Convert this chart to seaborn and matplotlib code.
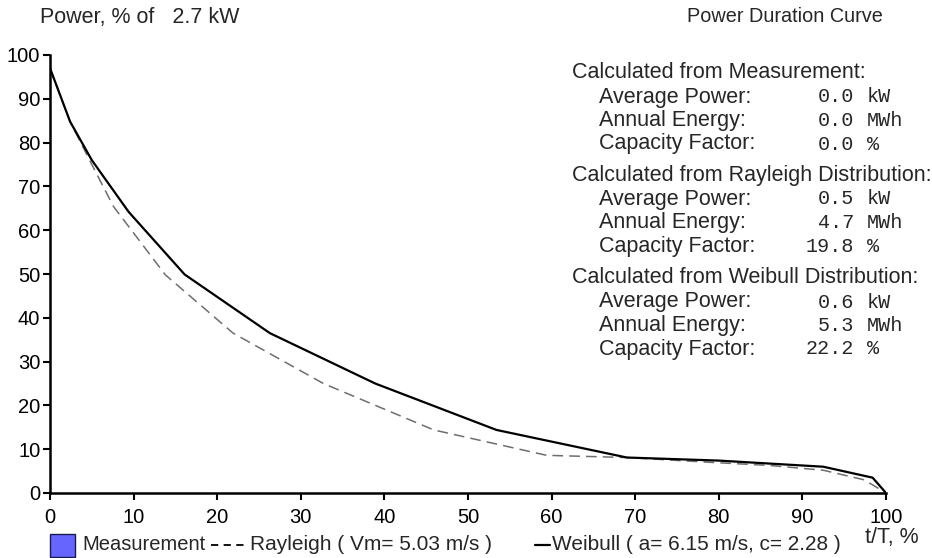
import matplotlib
matplotlib.use("Agg")
import matplotlib.pyplot as plt
import seaborn as sns
import pandas as pd
from matplotlib.lines import Line2D
from matplotlib.patches import Rectangle

# ---- data ----
weibull_t = [0, 2.4, 5, 9.4, 16.1, 26.3, 38.9, 53.4, 69, 80, 92.5, 98.4, 100]
weibull_p = [97, 84.8, 76, 64.2, 49.9, 36.5, 25.0, 14.4, 8.1, 7.4, 6.0, 3.5, 0]
rayleigh_t = [0, 2.4, 5, 7.6, 13.8, 21.9, 32.7, 45.9, 59.4, 69, 79, 86, 92.5, 97.4, 100]
rayleigh_p = [97, 84.8, 75, 65.4, 49.8, 36.5, 25.0, 14.4, 8.6, 8.1, 7.0, 6.3, 5.2, 3.0, 0]
x_ticks = [0, 10, 20, 30, 40, 50, 60, 70, 80, 90, 100]
y_ticks = [0, 10, 20, 30, 40, 50, 60, 70, 80, 90, 100]
sections = ["Calculated from Measurement:",
            "Calculated from Rayleigh Distribution:",
            "Calculated from Weibull Distribution:"]
row_labels = ["Average Power:", "Annual Energy:", "Capacity Factor:"]
row_units = ["kW", "MWh", "%"]
values = [["0.0", "0.0", "0.0"], ["0.5", "4.7", "19.8"], ["0.6", "5.3", "22.2"]]

sns.set_style("white")
plt.rcParams["font.family"] = ["Liberation Sans", "DejaVu Sans"]

W, H = 932, 558
FS = 15
fig = plt.figure(figsize=(W / 100, H / 100), dpi=100)
x0, x1, y0, y1 = 50, 886, 493, 55
ax = fig.add_axes([x0 / W, 1 - y0 / H, (x1 - x0) / W, (y0 - y1) / H])

dfw = pd.DataFrame({"t": weibull_t, "p": weibull_p})
dfr = pd.DataFrame({"t": rayleigh_t, "p": rayleigh_p})
sns.lineplot(data=dfr, x="t", y="p", ax=ax, color="#6e6e6e", lw=1.1,
             linestyle=(0, (7, 4)), estimator=None, sort=False)
sns.lineplot(data=dfw, x="t", y="p", ax=ax, color="black", lw=1.6,
             estimator=None, sort=False)

ax.set_xlim(0, 100)
ax.set_ylim(0, 100)
ax.set_xticks(x_ticks)
ax.set_yticks(y_ticks)
ax.set_xlabel("")
ax.set_ylabel("")
for s in ["top", "right"]:
    ax.spines[s].set_visible(False)
for s in ["left", "bottom"]:
    ax.spines[s].set_linewidth(1.8)
    ax.spines[s].set_color("black")
ax.tick_params(axis="both", direction="out", length=5, width=1.5,
               colors="black", labelsize=14.5, left=True, bottom=True)
ax.tick_params(axis="x", pad=6)
ax.tick_params(axis="y", pad=2)

# titles
fig.text(40 / W, 1 - 17 / H, "Power, % of   2.7 kW", fontsize=FS + 0.5, va="center", ha="left")
fig.text(883 / W, 1 - 17 / H, "Power Duration Curve", fontsize=14.3, va="center", ha="right")
fig.text(865 / W, 1 - 538 / H, "t/T, %", fontsize=15.5, va="center", ha="left")

# stats block
sec_y = [73, 175, 278]
for si, (title, sy) in enumerate(zip(sections, sec_y)):
    fig.text(572 / W, 1 - sy / H, title, fontsize=FS + 0.5, va="center", ha="left")
    for ri in range(3):
        ry = sy + 24 + ri * 23.5
        fig.text(599 / W, 1 - ry / H, row_labels[ri], fontsize=FS + 0.5, va="center", ha="left")
        fig.text(854 / W, 1 - ry / H, values[si][ri], fontsize=14.5,
                 family="Liberation Mono", va="center", ha="right")
        fig.text(867 / W, 1 - ry / H, row_units[ri], fontsize=14.5,
                 family="Liberation Mono", va="center", ha="left")

# legend (bottom)
ly = 545
fig.patches.append(Rectangle((50 / W, 1 - 557 / H), 25 / W, 23 / H,
                             transform=fig.transFigure, facecolor="#6666ff",
                             edgecolor="#1a1a4d", lw=1))
fig.text(82 / W, 1 - ly / H, "Measurement", fontsize=14.5, va="center", ha="left")
fig.lines.append(Line2D([211 / W, 248 / W], [1 - ly / H, 1 - ly / H],
                        transform=fig.transFigure, color="black", lw=1.3,
                        linestyle=(0, (4, 3))))
fig.text(250 / W, 1 - ly / H, "Rayleigh ( Vm= 5.03 m/s )", fontsize=FS, va="center", ha="left")
fig.lines.append(Line2D([535 / W, 550 / W], [1 - ly / H, 1 - ly / H],
                        transform=fig.transFigure, color="black", lw=1.6))
fig.text(552 / W, 1 - ly / H, "Weibull ( a= 6.15 m/s, c= 2.28 )", fontsize=FS, va="center", ha="left")

fig.savefig("out.png", dpi=100, facecolor="white")
